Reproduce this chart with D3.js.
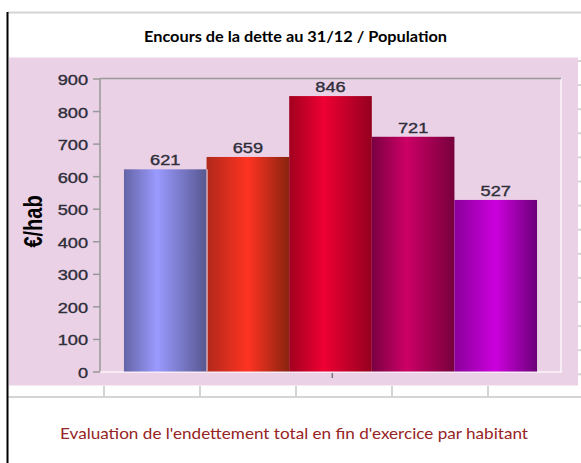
<!DOCTYPE html>
<html>
<head>
<meta charset="utf-8">
<script src="https://cdn.jsdelivr.net/npm/d3@7"></script>
<style>
  html, body { margin: 0; padding: 0; background: #fff; }
</style>
</head>
<body>
<div id="chart"></div>
<script>
// data
const barIds = ["b1", "b2", "b3", "b4", "b5"];
const barValues = [621, 659, 846, 721, 527];
const yTicks = [0, 100, 200, 300, 400, 500, 600, 700, 800, 900];
const titleText = "Encours de la dette au 31/12 / Population";
const footerText = "Evaluation de l'endettement total en fin d'exercice par habitant";
const yLabel = "€/hab";

// cylinder-ish shading per bar: left, highlight, right, highlight position
const barShades = [
  ["#6464a6", "#9a9aff", "#575790", 0.4],
  ["#b0281a", "#ff3322", "#88240f", 0.5],
  ["#a2001f", "#ee0033", "#94001e", 0.42],
  ["#7a0042", "#cc0066", "#76003c", 0.42],
  ["#8a009a", "#cc00dd", "#6c0078", 0.5]
];

const W = 581, H = 463;
// text in the pasted chart picture is stretched sideways
const stretch = 1.3;

var svg = d3.select("#chart")
  .append("svg")
  .attr("width", W)
  .attr("height", H);

var defs = svg.append("defs");

// spreadsheet background lines
svg.append("line")
  .attr("x1", 8).attr("x2", W)
  .attr("y1", 12.5).attr("y2", 12.5)
  .attr("stroke", "#d4d4d4").attr("stroke-width", 2);

svg.append("line")
  .attr("x1", 8).attr("x2", W)
  .attr("y1", 397).attr("y2", 397)
  .attr("stroke", "#d4d4d4").attr("stroke-width", 2);

[104, 200, 296, 392, 488].forEach(function (cx) {
  svg.append("line")
    .attr("x1", cx).attr("x2", cx)
    .attr("y1", 386).attr("y2", 397)
    .attr("stroke", "#d4d4d4").attr("stroke-width", 2);
});

d3.range(14).forEach(function (i) {
  var ry = 61 + i * 24.1;
  svg.append("line")
    .attr("x1", 578).attr("x2", W)
    .attr("y1", ry).attr("y2", ry)
    .attr("stroke", "#d4d4d4").attr("stroke-width", 2);
});

svg.append("line")
  .attr("x1", 7.5).attr("x2", 7.5)
  .attr("y1", 12).attr("y2", H)
  .attr("stroke", "#000").attr("stroke-width", 2);

// title cell
svg.append("text")
  .attr("x", 144)
  .attr("y", 41.5)
  .attr("textLength", 303)
  .attr("lengthAdjust", "spacingAndGlyphs")
  .style("font-family", "Lato, 'Open Sans', sans-serif")
  .style("font-weight", "bold")
  .style("font-size", "14.5px")
  .attr("fill", "#000")
  .text(titleText);

// chart picture background
svg.append("rect")
  .attr("x", 9).attr("y", 57.5)
  .attr("width", 569).attr("height", 328)
  .attr("fill", "#ebd1e5");

var plot = { left: 100, right: 561, top: 78.5, bottom: 371.5 };

var x = d3.scaleBand()
  .domain(barIds)
  .range([plot.left, plot.right])
  .paddingInner(0)
  .paddingOuter(0.29);

var y = d3.scaleLinear()
  .domain([0, 900])
  .range([plot.bottom, plot.top]);

// frame: grey top/left, white right/bottom
svg.append("line")
  .attr("x1", plot.right).attr("x2", plot.right)
  .attr("y1", plot.top).attr("y2", plot.bottom + 1)
  .attr("stroke", "#fbf4fa").attr("stroke-width", 1.5);
svg.append("line")
  .attr("x1", plot.left).attr("x2", plot.right + 1)
  .attr("y1", plot.bottom + 0.5).attr("y2", plot.bottom + 0.5)
  .attr("stroke", "#fbf4fa").attr("stroke-width", 1.5);

// gradients
barShades.forEach(function (s, i) {
  var g = defs.append("linearGradient")
    .attr("id", "grad" + i)
    .attr("x1", "0%").attr("x2", "100%")
    .attr("y1", "0%").attr("y2", "0%");
  g.append("stop").attr("offset", "0%").attr("stop-color", s[0]);
  g.append("stop").attr("offset", (s[3] * 100) + "%").attr("stop-color", s[1]);
  g.append("stop").attr("offset", "100%").attr("stop-color", s[2]);
});

svg.selectAll("rect.bar")
  .data(barValues)
  .enter().append("rect")
  .attr("class", "bar")
  .attr("x", (d, i) => x(barIds[i]))
  .attr("y", d => y(d))
  .attr("width", x.bandwidth())
  .attr("height", d => y(0) - y(d))
  .attr("fill", (d, i) => "url(#grad" + i + ")");

// little gap after the first bar
svg.append("line")
  .attr("x1", x(barIds[1]) + 0.5).attr("x2", x(barIds[1]) + 0.5)
  .attr("y1", y(barValues[0])).attr("y2", y(0))
  .attr("stroke", "#d8c4dc").attr("stroke-width", 1.2);

svg.append("line")
  .attr("x1", plot.left).attr("x2", plot.right)
  .attr("y1", plot.top).attr("y2", plot.top)
  .attr("stroke", "#999").attr("stroke-width", 1.5);
svg.append("line")
  .attr("x1", plot.left).attr("x2", plot.left)
  .attr("y1", plot.top).attr("y2", plot.bottom)
  .attr("stroke", "#999").attr("stroke-width", 1.5);

// y axis
var yAxis = d3.axisLeft(y)
  .tickValues(yTicks)
  .tickSize(7)
  .tickFormat(d3.format("d"));

var gy = svg.append("g")
  .attr("transform", `translate(${plot.left}, 0)`)
  .call(yAxis);

gy.select(".domain").remove();
gy.selectAll(".tick line")
  .attr("stroke", "#999")
  .attr("stroke-width", 1.5);
gy.selectAll(".tick text")
  .attr("x", null)
  .attr("dy", null)
  .attr("transform", "translate(-12, 6) scale(" + stretch + ",1)")
  .attr("text-anchor", "end")
  .style("font-family", "'Liberation Sans', Arial, sans-serif")
  .style("font-size", "14px")
  .attr("fill", "#2e2e3a")
  .attr("stroke", "#2e2e3a")
  .attr("stroke-width", 0.35);

// value labels
svg.selectAll("text.val")
  .data(barValues)
  .enter().append("text")
  .attr("class", "val")
  .attr("transform", (d, i) => `translate(${x(barIds[i]) + x.bandwidth() / 2}, ${y(d) - 4}) scale(${stretch},1)`)
  .attr("text-anchor", "middle")
  .style("font-family", "'Liberation Sans', Arial, sans-serif")
  .style("font-size", "14px")
  .attr("fill", "#2e2e3a")
  .attr("stroke", "#2e2e3a")
  .attr("stroke-width", 0.35)
  .text(d => d);

// stray tick under the plot
svg.append("line")
  .attr("x1", 332.3).attr("x2", 332.3)
  .attr("y1", 373).attr("y2", 378)
  .attr("stroke", "#777").attr("stroke-width", 1.5);

// y label
svg.append("text")
  .attr("transform", "translate(41.5, 221.5) scale(" + stretch + ",1) rotate(-90)")
  .attr("text-anchor", "middle")
  .style("font-family", "'Liberation Sans', Arial, sans-serif")
  .style("font-weight", "bold")
  .style("font-size", "20px")
  .attr("fill", "#000")
  .text(yLabel);

// footer cell
svg.append("text")
  .attr("x", 60)
  .attr("y", 439)
  .attr("textLength", 468)
  .attr("lengthAdjust", "spacingAndGlyphs")
  .style("font-family", "Lato, 'Open Sans', sans-serif")
  .style("font-size", "16px")
  .attr("fill", "#962424")
  .text(footerText);
</script>
</body>
</html>
